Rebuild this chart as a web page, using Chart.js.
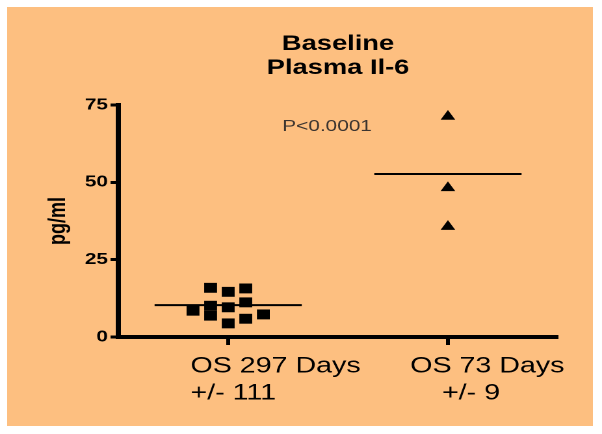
<!DOCTYPE html>
<html>
<head>
    <title>Baseline Plasma Il-6</title>
    <script src="https://cdn.jsdelivr.net/npm/chart.js"></script>
    <style>
        body { margin: 0; background: #fff; width: 602px; height: 434px; position: relative; overflow: hidden; }
        #panel { position: absolute; left: 7px; top: 7px; width: 586px; height: 419px; background: #fdbf80; }
        #chart-container { position: absolute; left: 0; top: 0; width: 463px; height: 434px;
            transform: scaleX(1.3002); transform-origin: 0 0; }
    </style>
</head>
<body>
    <div id="panel"></div>
    <div id="chart-container">
        <canvas id="chart"></canvas>
    </div>

    <script>
        // values
        const xTicks = [1, 2];
        const xLabels = [['OS 297 Days', '+/- 111'], ['OS 73 Days', '    +/- 9']];

        const longX = [0.84, 0.92, 0.92, 0.92, 1.0, 1.0, 1.0, 1.08, 1.08, 1.08, 1.16];
        const longY = [8.5, 15.9, 10.1, 6.9, 14.6, 9.6, 4.4, 15.7, 11.2, 5.9, 7.3];

        const shortX = [2, 2, 2];
        const shortY = [71.3, 48.2, 35.7];

        const meanY = [10.3, 52.7];
        const meanHalfWidth = 0.335;

        const pText = 'P<0.0001';
        const pAt = { x: 1.45, y: 68 };

        const toPoints = (xs, ys) => xs.map((x, i) => ({ x: x, y: ys[i] }));
        const meanLine = i => [
            { x: xTicks[i] - meanHalfWidth, y: meanY[i] },
            { x: xTicks[i] + meanHalfWidth, y: meanY[i] }
        ];

        const pValuePlugin = {
            id: 'pvalue',
            afterDatasetsDraw(chart) {
                const ctx = chart.ctx;
                ctx.save();
                ctx.font = '16px "Liberation Sans", Arial, sans-serif';
                ctx.fillStyle = '#3c3530';
                ctx.textAlign = 'center';
                ctx.textBaseline = 'middle';
                ctx.fillText(pText, chart.scales.x.getPixelForValue(pAt.x), chart.scales.y.getPixelForValue(pAt.y));
                ctx.restore();
            }
        };

        const ctx = document.getElementById('chart').getContext('2d');
        const chart = new Chart(ctx, {
            type: 'scatter',
            data: {
                datasets: [
                    {
                        label: 'OS 297 Days',
                        data: toPoints(longX, longY),
                        pointStyle: 'rect',
                        pointRadius: 7,
                        pointHoverRadius: 7,
                        backgroundColor: '#000',
                        borderColor: '#000',
                        borderWidth: 0
                    },
                    {
                        label: 'OS 73 Days',
                        data: toPoints(shortX, shortY),
                        pointStyle: 'triangle',
                        pointRadius: 6.5,
                        pointHoverRadius: 6.5,
                        backgroundColor: '#000',
                        borderColor: '#000',
                        borderWidth: 0
                    },
                    {
                        type: 'line',
                        label: 'mean 1',
                        data: meanLine(0),
                        borderColor: '#000',
                        borderWidth: 2,
                        pointRadius: 0
                    },
                    {
                        type: 'line',
                        label: 'mean 2',
                        data: meanLine(1),
                        borderColor: '#000',
                        borderWidth: 2,
                        pointRadius: 0
                    }
                ]
            },
            options: {
                responsive: true,
                maintainAspectRatio: false,
                animation: false,
                devicePixelRatio: 2,
                layout: { padding: { left: 0, right: 34, top: 32, bottom: 0 } },
                plugins: {
                    legend: { display: false },
                    tooltip: { enabled: false },
                    title: {
                        display: true,
                        fullSize: false,
                        text: ['Baseline', 'Plasma Il-6'],
                        color: '#000',
                        font: { family: '"Liberation Sans", Arial, sans-serif', size: 21, weight: 'bold', lineHeight: 1.15 },
                        padding: { top: 0, bottom: 24.7 }
                    }
                },
                scales: {
                    x: {
                        type: 'linear',
                        position: 'bottom',
                        min: 0.5,
                        max: 2.5,
                        afterBuildTicks: scale => { scale.ticks = xTicks.map(v => ({ value: v })); },
                        afterFit: scale => {
                            scale.height = 97;
                            scale.paddingLeft = 0;
                            scale.paddingRight = 0;
                        },
                        grid: { drawOnChartArea: false, tickLength: 8, tickWidth: 3, tickColor: '#000' },
                        border: { color: '#000', width: 4 },
                        ticks: {
                            align: 'start',
                            labelOffset: -29,
                            padding: 8,
                            color: '#000',
                            font: { family: '"Liberation Sans", Arial, sans-serif', size: 22, lineHeight: 1.22 },
                            callback: (value, index) => xLabels[index]
                        }
                    },
                    y: {
                        min: 0,
                        max: 75,
                        afterFit: scale => { scale.width = 91; },
                        grid: { drawOnChartArea: false, tickLength: 6, tickWidth: 3, tickColor: '#000' },
                        border: { color: '#000', width: 4 },
                        ticks: {
                            stepSize: 25,
                            padding: 2,
                            color: '#000',
                            font: { family: '"Liberation Sans", Arial, sans-serif', size: 16, weight: 'bold' }
                        },
                        title: {
                            display: true,
                            text: 'pg/ml',
                            color: '#000',
                            padding: { top: 34, bottom: 0 },
                            font: { family: '"Liberation Sans", Arial, sans-serif', size: 18, weight: 'bold' }
                        }
                    }
                }
            },
            plugins: [pValuePlugin]
        });
    </script>
</body>
</html>
